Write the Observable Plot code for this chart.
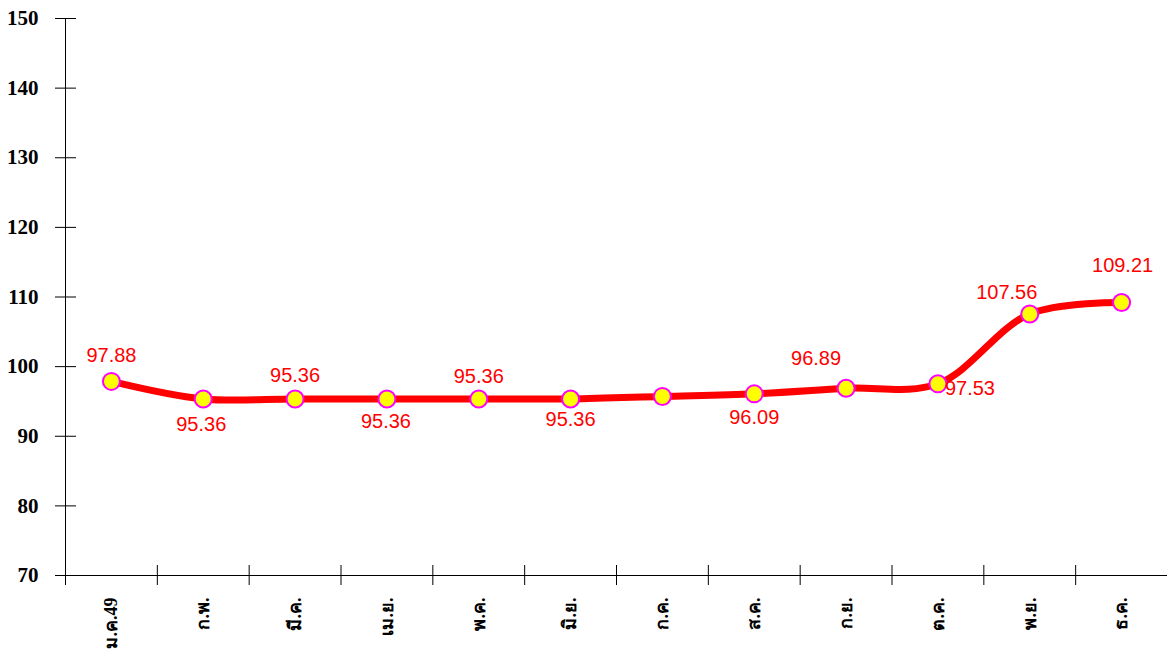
<!DOCTYPE html>
<html>
<head>
<meta charset="utf-8">
<script src="https://cdn.jsdelivr.net/npm/d3@7"></script>
<script src="https://cdn.jsdelivr.net/npm/@observablehq/plot@0.6"></script>
<style>
  html, body { margin: 0; padding: 0; background: #fff; }
  #chart svg { display: block; }
</style>
</head>
<body>
<div id="chart"></div>
<script>
const months = ["ม.ค.49", "ก.พ.", "มี.ค.", "เม.ย.", "พ.ค.", "มิ.ย.", "ก.ค.", "ส.ค.", "ก.ย.", "ต.ค.", "พ.ย.", "ธ.ค."];
const values = [97.88, 95.36, 95.36, 95.36, 95.36, 95.36, 95.72, 96.09, 96.89, 97.53, 107.56, 109.21];
const labels = ["97.88", "95.36", "95.36", "95.36", "95.36", "95.36", null, "96.09", "96.89", "97.53", "107.56", "109.21"];
const yTicks = [70, 80, 90, 100, 110, 120, 130, 140, 150];

const data = months.map((m, i) => ({month: m, value: values[i], label: labels[i]}));

// label placement around each point (layout, kept in code)
const placement = {
  "ม.ค.49": {dx: 0, dy: -26}, "ก.พ.": {dx: -2, dy: 26}, "มี.ค.": {dx: 0, dy: -23},
  "เม.ย.": {dx: -1, dy: 23}, "พ.ค.": {dx: 0, dy: -22}, "มิ.ย.": {dx: 0, dy: 21},
  "ส.ค.": {dx: 0, dy: 24}, "ก.ย.": {dx: -30, dy: -30}, "ต.ค.": {dx: 32, dy: 5},
  "พ.ย.": {dx: -23, dy: -21}, "ธ.ค.": {dx: 1, dy: -37}
};

const labelMarks = data.filter(d => d.label != null).map(d =>
  Plot.text([d], {
    x: "month", y: "value", text: "label",
    dx: placement[d.month].dx, dy: placement[d.month].dy,
    fill: "#ff0000", fontSize: 20, fontFamily: "'Liberation Sans', Arial, sans-serif"
  })
);

const W = 1167, H = 655;
const mL = 65, mR = 0;
const bw = (W - mL - mR) / months.length;
const serif = "'Liberation Serif', 'Times New Roman', serif";

const chart = Plot.plot({
  width: W,
  height: H,
  marginLeft: mL,
  marginRight: mR,
  marginTop: 18,
  marginBottom: 80,
  style: {background: "#fff", overflow: "visible"},
  x: {type: "band", domain: months, padding: 0, round: false, label: null},
  y: {domain: [70, 150], label: null},
  marks: [
    Plot.frame({anchor: "left", stroke: "#000"}),
    Plot.frame({anchor: "bottom", stroke: "#000"}),
    // y ticks crossing the axis
    Plot.axisY(yTicks, {tickSize: 21, dx: 11, fill: "none", stroke: "#000", label: null}),
    Plot.axisY(yTicks, {tickSize: 0, tickPadding: 27, stroke: "none", fill: "#000",
      fontSize: 21, fontWeight: "bold", fontFamily: serif, label: null}),
    // x ticks at band boundaries, crossing the axis
    Plot.axisX({tickSize: 20, dx: -bw / 2, dy: -10, fill: "none", stroke: "#000", label: null}),
    Plot.axisX({tickSize: 0, tickPadding: 22, tickRotate: -90, stroke: "none", fill: "#000",
      fontSize: 18, fontWeight: "bold", fontFamily: serif, label: null}),
    Plot.line(data, {x: "month", y: "value", curve: "catmull-rom", stroke: "#ff0000", strokeWidth: 7}),
    Plot.dot(data, {x: "month", y: "value", r: 8.5, fill: "#ffff00", stroke: "#ff00ff", strokeWidth: 2}),
    ...labelMarks
  ]
});
document.getElementById("chart").appendChild(chart);
</script>
</body>
</html>
